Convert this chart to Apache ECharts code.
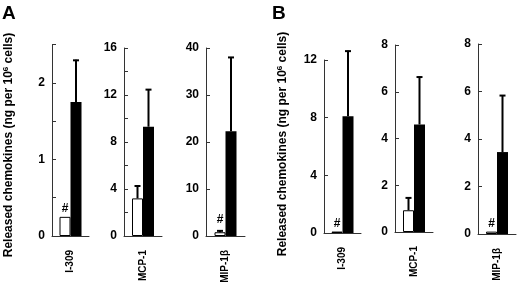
<!DOCTYPE html>
<html>
<head>
<meta charset="utf-8">
<script src="https://cdn.jsdelivr.net/npm/echarts@6/dist/echarts.min.js"></script>
<style>html,body{margin:0;padding:0;background:#fff}#c{width:520px;height:282px}</style>
</head>
<body>
<div id="c"></div>
<script>
// ---- data ----
const categories = ['I-309', 'MCP-1', 'MIP-1\u03b2'];
const panelA_control = [0.25, 3.2, 0.8];
const panelA_controlErr = [null, 4.3, 1.2];
const panelA_stim = [1.75, 9.3, 22.3];
const panelA_stimErr = [2.3, 12.5, 38.1];
const panelA_marks = ['#', '', '#'];
const panelB_control = [0.1, 0.93, 0.1];
const panelB_controlErr = [null, 1.48, null];
const panelB_stim = [8.1, 4.6, 3.45];
const panelB_stimErr = [12.65, 6.65, 5.85];
const panelB_marks = ['#', '', '#'];
// axis scales: max, tick interval, labelled values
const axisMaxA = [2.5, 16, 40];
const axisStepA = [0.5, 2, 10];
const axisLabelsA = [[0, 1, 2], [0, 4, 8, 12, 16], [0, 10, 20, 30, 40]];
const axisMaxB = [12, 8, 8];
const axisStepB = [4, 2, 2];
const axisLabelsB = [[0, 4, 8, 12], [0, 2, 4, 6, 8], [0, 2, 4, 6, 8]];

// ---- layout (styles only) ----
const grids = [
  {left: 52, top: 44.5, width: 37, height: 191.5},
  {left: 124, top: 48, width: 38, height: 188},
  {left: 206, top: 48, width: 39, height: 188},
  {left: 324, top: 60, width: 37, height: 173},
  {left: 395, top: 45, width: 38, height: 187},
  {left: 478, top: 44, width: 38, height: 190}
];
const BAR_W = 11;
const FONT = '"Liberation Sans", Arial, sans-serif';

const panels = [];
for (let i = 0; i < 3; i++) panels.push({cat: categories[i], c: panelA_control[i], ce: panelA_controlErr[i], s: panelA_stim[i], se: panelA_stimErr[i], mark: panelA_marks[i], max: axisMaxA[i], step: axisStepA[i], labels: axisLabelsA[i]});
for (let i = 0; i < 3; i++) panels.push({cat: categories[i], c: panelB_control[i], ce: panelB_controlErr[i], s: panelB_stim[i], se: panelB_stimErr[i], mark: panelB_marks[i], max: axisMaxB[i], step: axisStepB[i], labels: axisLabelsB[i]});

const titleStyle = {text: 'Released chemokines (ng per 10{sup|6} cells)', font: 'bold 12px ' + FONT, fill: '#000', align: 'center', verticalAlign: 'middle',
  rich: {sup: {fontSize: 8, fontWeight: 'bold', fontFamily: FONT, verticalAlign: 'top', padding: [0, 0, 6, 0]}}};

const option = {
  animation: false,
  backgroundColor: '#fff',
  grid: grids.map(g => Object.assign({containLabel: false, outerBoundsMode: 'none'}, g)),
  xAxis: [], yAxis: [], series: [],
  graphic: [
    {type: 'text', left: 2, top: 4, style: {text: 'A', font: 'bold 19px ' + FONT, fill: '#000'}},
    {type: 'text', left: 272, top: 4, style: {text: 'B', font: 'bold 19px ' + FONT, fill: '#000'}},
    {type: 'text', x: 9, y: 145, rotation: Math.PI / 2, style: titleStyle},
    {type: 'text', x: 283, y: 144, rotation: Math.PI / 2, style: titleStyle}
  ]
};

panels.forEach((p, i) => {
  option.xAxis.push({
    type: 'category', gridIndex: i, data: [p.cat],
    axisLine: {lineStyle: {color: '#333', width: 1}},
    axisTick: {show: false},
    axisLabel: {rotate: 90, margin: 14, color: '#000', fontWeight: 'bold', fontSize: 10, fontFamily: FONT, padding: [0, 0, 12, 0]}
  });
  const labs = p.labels;
  option.yAxis.push({
    type: 'value', gridIndex: i, min: 0, max: p.max, interval: p.step,
    axisLine: {show: true, lineStyle: {color: '#333', width: 1}},
    axisTick: {show: true, inside: true, length: 4, lineStyle: {color: '#333'}},
    splitLine: {show: false},
    axisLabel: {margin: 7, color: '#000', fontWeight: 'bold', fontSize: 12, fontFamily: FONT,
      formatter: v => labs.some(l => Math.abs(l - v) < 1e-9) ? String(v) : ''}
  });
  option.series.push({
    type: 'bar', xAxisIndex: i, yAxisIndex: i, data: [p.c], barWidth: BAR_W, barGap: 0,
    itemStyle: {color: '#fff', borderColor: '#000', borderWidth: 1},
    label: {show: !!p.mark, position: 'top', distance: p.ce != null ? 7 : 2, formatter: p.mark, color: '#000', fontWeight: 'bold', fontSize: 12, fontFamily: FONT}
  });
  option.series.push({
    type: 'bar', xAxisIndex: i, yAxisIndex: i, data: [p.s], barWidth: BAR_W, barGap: 0,
    itemStyle: {color: '#000'}
  });
  option.series.push({
    type: 'custom', xAxisIndex: i, yAxisIndex: i, clip: false, z: 5,
    data: [[0, p.c, p.ce, p.s, p.se]],
    renderItem: (params, api) => {
      const children = [];
      const pairs = [[api.value(1), api.value(2), -BAR_W / 2], [api.value(3), api.value(4), BAR_W / 2]];
      pairs.forEach(([v, e, off]) => {
        if (e == null || isNaN(e)) return;
        const base = api.coord([0, v]);
        const top = api.coord([0, e]);
        const x = base[0] + off;
        children.push({type: 'line', shape: {x1: x, y1: base[1], x2: x, y2: top[1]}, style: {stroke: '#000', lineWidth: 2}});
        children.push({type: 'line', shape: {x1: x - 3, y1: top[1] + 0.5, x2: x + 3, y2: top[1] + 0.5}, style: {stroke: '#000', lineWidth: 2}});
      });
      return {type: 'group', children};
    }
  });
});

const chart = echarts.init(document.getElementById('c'), null, {renderer: 'canvas'});
chart.setOption(option);
</script>
</body>
</html>
